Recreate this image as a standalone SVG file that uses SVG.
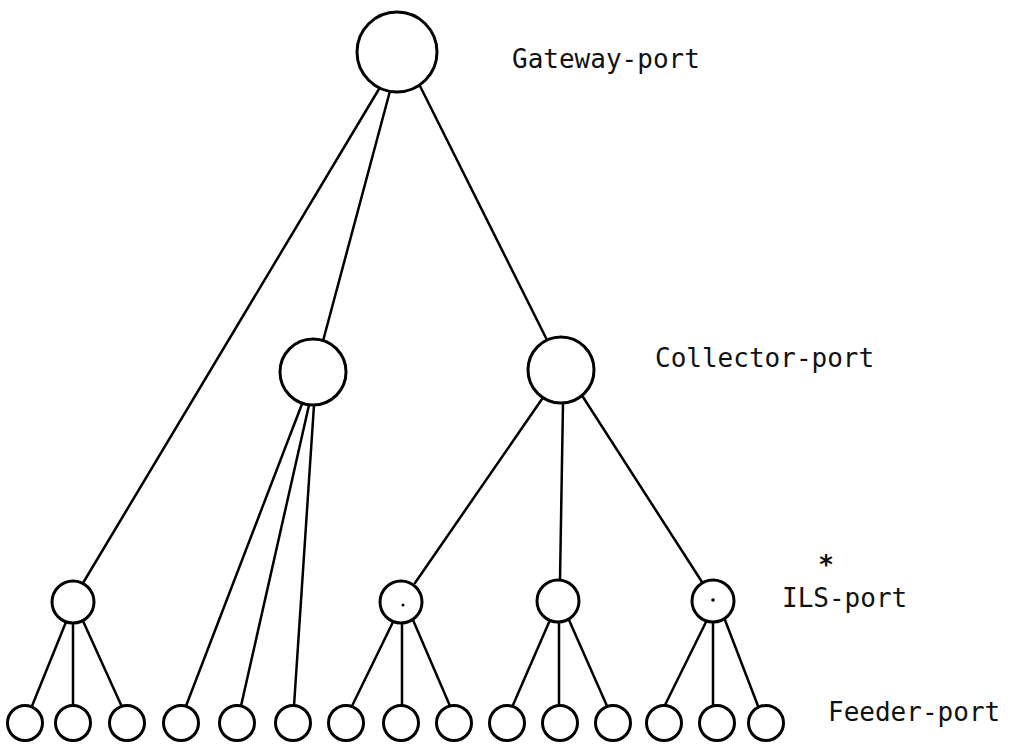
<svg xmlns="http://www.w3.org/2000/svg" width="1016" height="745" viewBox="0 0 1016 745">
<style>
.n{fill:#fff;stroke:#000;stroke-width:3}
.c line{stroke:#000;stroke-width:2.5;stroke-linecap:round}
.t{font-family:"DejaVu Sans Mono","Liberation Mono",monospace;font-size:26px;fill:#111}
.d{fill:#000}
</style>
<rect width="1016" height="745" fill="#fff"/>
<g id="connectors" class="c">
<line x1="379" y1="89" x2="83" y2="583"/>
<line x1="390" y1="91" x2="323" y2="341"/>
<line x1="420" y1="86" x2="547" y2="340"/>
<line x1="302" y1="404" x2="186" y2="706"/>
<line x1="309" y1="405" x2="241" y2="706"/>
<line x1="314" y1="405" x2="294" y2="706"/>
<line x1="542" y1="399" x2="415" y2="583"/>
<line x1="563" y1="403" x2="560" y2="580"/>
<line x1="583" y1="397" x2="702" y2="582"/>
<line x1="66" y1="622" x2="32" y2="706"/>
<line x1="73" y1="623" x2="73" y2="705"/>
<line x1="83" y1="621" x2="122" y2="707"/>
<line x1="393" y1="622" x2="352" y2="706"/>
<line x1="402" y1="623" x2="402" y2="705"/>
<line x1="413" y1="620" x2="450" y2="706"/>
<line x1="550" y1="620" x2="513" y2="705"/>
<line x1="559" y1="623" x2="559" y2="705"/>
<line x1="569" y1="620" x2="607" y2="706"/>
<line x1="707" y1="620" x2="665" y2="705"/>
<line x1="713" y1="623" x2="713" y2="705"/>
<line x1="725" y1="620" x2="758" y2="706"/>
</g>
<g id="gateway"><circle class="n" cx="397" cy="52" r="40"/></g>
<g id="collector1"><circle class="n" cx="313" cy="372" r="33"/></g>
<g id="collector2"><circle class="n" cx="561" cy="370" r="33"/></g>
<g id="ils1"><circle class="n" cx="73" cy="602" r="21"/></g>
<g id="ils2"><circle class="n" cx="401" cy="602" r="21"/><circle class="d" cx="403" cy="605" r="1.5"/></g>
<g id="ils3"><circle class="n" cx="558" cy="601" r="21"/></g>
<g id="ils4"><circle class="n" cx="713" cy="601" r="21"/><circle class="d" cx="713" cy="600" r="1.8"/></g>
<g id="feeder1"><circle class="n" cx="25" cy="723" r="17.5"/></g>
<g id="feeder2"><circle class="n" cx="73" cy="723" r="17.5"/></g>
<g id="feeder3"><circle class="n" cx="127" cy="723" r="17.5"/></g>
<g id="feeder4"><circle class="n" cx="181" cy="723" r="17.5"/></g>
<g id="feeder5"><circle class="n" cx="237" cy="723" r="17.5"/></g>
<g id="feeder6"><circle class="n" cx="293" cy="723" r="17.5"/></g>
<g id="feeder7"><circle class="n" cx="346" cy="723" r="17.5"/></g>
<g id="feeder8"><circle class="n" cx="401" cy="723" r="17.5"/></g>
<g id="feeder9"><circle class="n" cx="454" cy="723" r="17.5"/></g>
<g id="feeder10"><circle class="n" cx="507" cy="723" r="17.5"/></g>
<g id="feeder11"><circle class="n" cx="560" cy="723" r="17.5"/></g>
<g id="feeder12"><circle class="n" cx="613" cy="723" r="17.5"/></g>
<g id="feeder13"><circle class="n" cx="664" cy="723" r="17.5"/></g>
<g id="feeder14"><circle class="n" cx="717" cy="723" r="17.5"/></g>
<g id="feeder15"><circle class="n" cx="766" cy="723" r="17.5"/></g>
<g id="labels">
<text class="t" x="512" y="68">Gateway-port</text>
<text class="t" x="655" y="367">Collector-port</text>
<text class="t" x="826" y="574" font-weight="bold" font-size="32" text-anchor="middle">*</text>
<text class="t" x="782" y="607">ILS-port</text>
<text class="t" x="828" y="721">Feeder-port</text>
</g>
</svg>
